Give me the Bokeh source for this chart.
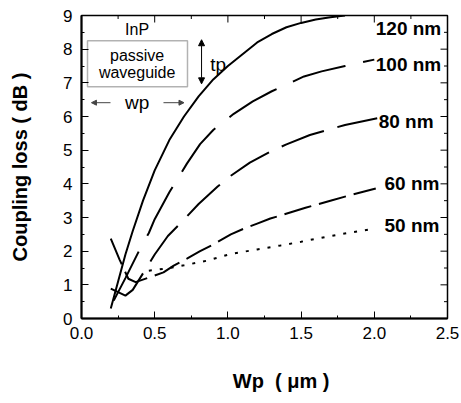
from bokeh.plotting import figure
from bokeh.models import (FixedTicker, NumeralTickFormatter, Range1d,
                          Arrow, NormalHead, BoxAnnotation, ColumnDataSource)
from bokeh.core.properties import value
from bokeh.embed import file_html
from bokeh.resources import INLINE

# ---- data ----
wp_120 = [0.20, 0.25, 0.30, 0.35, 0.42, 0.50, 0.60, 0.70, 0.80, 0.90, 1.00, 1.10, 1.20, 1.30, 1.40, 1.50, 1.60, 1.70, 1.80]
cl_120 = [0.30, 1.10, 1.90, 2.60, 3.50, 4.40, 5.30, 6.00, 6.60, 7.10, 7.50, 7.85, 8.20, 8.45, 8.65, 8.78, 8.88, 8.95, 9.00]

wp_100 = [0.22, 0.30, 0.40, 0.46, 0.50, 0.55, 0.60, 0.65, 0.72, 0.81, 0.90, 1.04, 1.17, 1.30, 1.52, 1.64, 1.80, 2.00]
cl_100 = [0.53, 1.20, 2.07, 2.54, 2.95, 3.35, 3.75, 4.10, 4.60, 5.18, 5.60, 6.08, 6.45, 6.75, 7.19, 7.34, 7.50, 7.69]

wp_80 = [0.20, 0.30, 0.35, 0.40, 0.50, 0.59, 0.68, 0.80, 0.93, 1.02, 1.15, 1.29, 1.40, 1.56, 1.80, 2.02]
cl_80 = [0.89, 0.68, 0.85, 1.20, 1.90, 2.45, 2.85, 3.40, 3.92, 4.24, 4.63, 4.96, 5.17, 5.45, 5.75, 5.95]

wp_60 = [0.20, 0.26, 0.32, 0.37, 0.45, 0.56, 0.63, 0.72, 0.81, 0.90, 1.02, 1.11, 1.20, 1.29, 1.36, 1.53, 1.70, 1.85, 2.01]
cl_60 = [2.37, 1.75, 1.18, 1.08, 1.20, 1.37, 1.57, 1.78, 2.00, 2.20, 2.50, 2.67, 2.82, 2.97, 3.06, 3.29, 3.50, 3.68, 3.86]

wp_50 = [0.46, 0.57, 0.70, 0.86, 1.02, 1.20, 1.36, 1.50, 1.70, 2.00]
cl_50 = [1.42, 1.48, 1.58, 1.72, 1.92, 2.05, 2.17, 2.28, 2.45, 2.67]

curve_labels = ["120 nm", "100 nm", "80 nm", "60 nm", "50 nm"]
x_ticks = [0.0, 0.5, 1.0, 1.5, 2.0, 2.5]
x_minor = [0.25, 0.75, 1.25, 1.75, 2.25]
y_ticks = [0, 1, 2, 3, 4, 5, 6, 7, 8, 9]
y_minor = [0.5, 1.5, 2.5, 3.5, 4.5, 5.5, 6.5, 7.5, 8.5]

FONT = "Liberation Sans"
X0, X1, Y0, Y1 = 0.0, 2.5, 0.0, 9.0

p = figure(width=461, height=403, output_backend="svg", toolbar_location=None,
           x_range=Range1d(X0, X1), y_range=Range1d(Y0, Y1),
           min_border_left=81, min_border_right=14, min_border_top=15, min_border_bottom=85)
p.background_fill_color = "white"
p.border_fill_color = "white"
p.outline_line_color = "black"
p.outline_line_width = 1.5
p.xgrid.visible = False
p.ygrid.visible = False

def style_axis(ax):
    ax.axis_line_color = "black"
    ax.axis_line_width = 2
    ax.major_tick_in = 7
    ax.major_tick_out = 0
    ax.minor_tick_in = 3
    ax.minor_tick_out = 0
    ax.major_tick_line_color = "black"
    ax.minor_tick_line_color = "black"
    ax.major_tick_line_width = 1
    ax.minor_tick_line_width = 1
    ax.major_label_text_font = FONT
    ax.major_label_text_color = "black"
    ax.axis_label_text_font = FONT
    ax.axis_label_text_font_style = "bold"
    ax.axis_label_text_color = "black"

xa = p.xaxis[0]
xa.ticker = FixedTicker(ticks=x_ticks, minor_ticks=x_minor)
xa.formatter = NumeralTickFormatter(format="0.0")
style_axis(xa)
xa.major_label_text_font_size = "17px"
xa.major_label_standoff = 8
xa.axis_label = "\u00a0\u00a0\u00a0\u00a0\u00a0\u00a0Wp\u00a0 ( \u03bcm )"
xa.axis_label_text_font_size = "20px"
xa.axis_label_standoff = 28

ya = p.yaxis[0]
ya.ticker = FixedTicker(ticks=y_ticks, minor_ticks=y_minor)
style_axis(ya)
ya.major_label_text_font_size = "17px"
ya.major_label_standoff = 9
ya.major_label_orientation = "horizontal"
ya.axis_label = "Coupling loss ( dB )"
ya.axis_label_text_font_size = "20px"
ya.axis_label_standoff = 29

# mirrored inner ticks on the top and right edges
tx = 7 / 366 * (X1 - X0)   # ~7 px in data units
ty = 7 / 303 * (Y1 - Y0)
p.segment(x0=x_ticks, y0=[Y1] * len(x_ticks), x1=x_ticks, y1=[Y1 - ty] * len(x_ticks),
          line_color="black", line_width=1)
p.segment(x0=x_minor, y0=[Y1] * len(x_minor), x1=x_minor, y1=[Y1 - ty / 2] * len(x_minor),
          line_color="black", line_width=1)
p.segment(x0=[X1] * len(y_ticks), y0=y_ticks, x1=[X1 - tx] * len(y_ticks), y1=y_ticks,
          line_color="black", line_width=1)
p.segment(x0=[X1] * len(y_minor), y0=y_minor, x1=[X1 - tx / 2] * len(y_minor), y1=y_minor,
          line_color="black", line_width=1)

# ---- curves ----
p.line(wp_120, cl_120, line_color="black", line_width=2)
p.line(wp_100, cl_100, line_color="black", line_width=2, line_dash="55 18")
p.line(wp_80, cl_80, line_color="black", line_width=2, line_dash="45 14")
p.line(wp_60, cl_60, line_color="black", line_width=2, line_dash="28 8")
p.line(wp_50, cl_50, line_color="black", line_width=2, line_dash="3 8")

# ---- curve labels ----
lab_src = ColumnDataSource(data=dict(x=[2.01, 2.01, 2.03, 2.07, 2.07],
                                     y=[8.60, 7.54, 5.85, 4.00, 2.76],
                                     t=curve_labels))
p.text(x="x", y="y", text="t", source=lab_src, text_font=value(FONT),
       text_font_style="bold", text_font_size="19px", text_align="left",
       text_baseline="middle", text_color="black")

# ---- inset annotation (waveguide sketch) ----
p.text(x=[0.38], y=[8.58], text=["InP"], text_font=value(FONT), text_font_size="16px",
       text_align="center", text_baseline="middle", text_color="black")
p.add_layout(BoxAnnotation(left=0.041, right=0.724, top=8.25, bottom=6.88,
                           fill_alpha=0, line_color="black", line_width=1.5))
p.text(x=[0.38, 0.38], y=[7.8, 7.3], text=["passive", "waveguide"], text_font=value(FONT),
       text_font_size="16px", text_align="center", text_baseline="middle", text_color="black")
p.text(x=[0.38], y=[6.42], text=["wp"], text_font=value(FONT), text_font_size="19px",
       text_align="center", text_baseline="middle", text_color="black")
p.text(x=[0.88], y=[7.55], text=["tp"], text_font=value(FONT), text_font_size="19px",
       text_align="left", text_baseline="middle", text_color="black")

p.add_layout(Arrow(start=NormalHead(size=6, fill_color="black", line_color="black"),
                   end=NormalHead(size=6, fill_color="black", line_color="black"),
                   x_start=0.82, y_start=6.97, x_end=0.82, y_end=8.28,
                   line_color="black", line_width=1))
p.add_layout(Arrow(end=NormalHead(size=5, fill_color="#444444", line_color="#444444"),
                   x_start=0.198, y_start=6.41, x_end=0.068, y_end=6.41,
                   line_color="#444444", line_width=1))
p.add_layout(Arrow(end=NormalHead(size=5, fill_color="#444444", line_color="#444444"),
                   x_start=0.56, y_start=6.41, x_end=0.70, y_end=6.41,
                   line_color="#444444", line_width=1))

open("out.html", "w").write(file_html(p, INLINE))
